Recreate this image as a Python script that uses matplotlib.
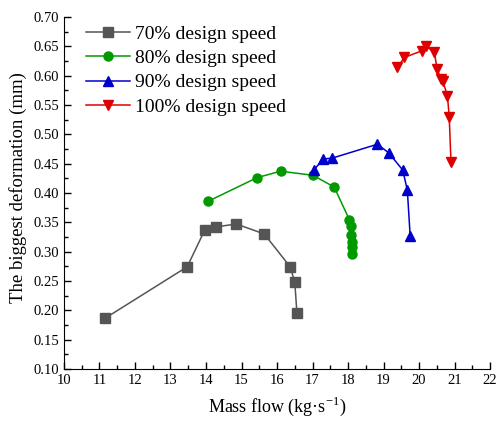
import matplotlib
matplotlib.use("Agg")
import matplotlib.pyplot as plt
from matplotlib.ticker import MultipleLocator, FormatStrFormatter

plt.rcParams['font.family'] = ['Liberation Serif', 'DejaVu Serif']
plt.rcParams['mathtext.fontset'] = 'custom'
plt.rcParams['mathtext.rm'] = 'Liberation Serif'

# Mass flow (kg/s) and biggest deformation (mm) per rotational speed
flow_70 = [11.15, 13.47, 13.96, 14.29, 14.85, 15.64, 16.37, 16.50, 16.56]
defo_70 = [0.186, 0.274, 0.336, 0.342, 0.347, 0.330, 0.274, 0.248, 0.196]

flow_80 = [14.07, 15.44, 16.10, 17.01, 17.61, 18.04, 18.07, 18.08, 18.10, 18.10, 18.12]
defo_80 = [0.386, 0.426, 0.437, 0.430, 0.410, 0.354, 0.343, 0.328, 0.316, 0.308, 0.296]

flow_90 = [17.04, 17.30, 17.54, 18.83, 19.15, 19.54, 19.67, 19.75]
defo_90 = [0.439, 0.458, 0.459, 0.483, 0.468, 0.439, 0.405, 0.327]

flow_100 = [19.39, 19.59, 20.07, 20.20, 20.43, 20.51, 20.61, 20.67, 20.80, 20.85, 20.90]
defo_100 = [0.614, 0.631, 0.642, 0.650, 0.640, 0.611, 0.595, 0.591, 0.565, 0.530, 0.452]

labels = ['70% design speed', '80% design speed', '90% design speed', '100% design speed']

fig = plt.figure(figsize=(4.96, 4.23), dpi=100)
ax = fig.add_axes([0.129, 0.128, 0.859, 0.832])

series = [
    (flow_70, defo_70, '#555555', 's'),
    (flow_80, defo_80, '#009a00', 'o'),
    (flow_90, defo_90, '#0000cc', '^'),
    (flow_100, defo_100, '#dd0000', 'v'),
]
for (x, y, c, m), lab in zip(series, labels):
    ax.plot(x, y, color=c, marker=m, markersize=6.5, linewidth=1.1, label=lab)

ax.set_xlim(10, 22)
ax.set_ylim(0.10, 0.70)
ax.xaxis.set_major_locator(MultipleLocator(1))
ax.xaxis.set_minor_locator(MultipleLocator(0.5))
ax.yaxis.set_major_locator(MultipleLocator(0.05))
ax.yaxis.set_minor_locator(MultipleLocator(0.025))
ax.yaxis.set_major_formatter(FormatStrFormatter('%.2f'))

ax.spines['top'].set_visible(False)
ax.spines['right'].set_visible(False)
ax.tick_params(which='both', direction='in', labelsize=10.5, width=1)
ax.tick_params(which='major', length=5)
ax.tick_params(which='minor', length=3)

ax.set_xlabel('Mass flow (kg·s$^{-1}$)', fontsize=13, labelpad=6)
ax.set_ylabel('The biggest deformation (mm)', fontsize=13.5)
ax.yaxis.set_label_coords(-0.087, 0.515)

leg = ax.legend(loc='upper left', frameon=False, fontsize=14, handlelength=2.3,
                bbox_to_anchor=(0.01, 1.027), labelspacing=0.35, handletextpad=0.25)

fig.savefig('out.png', dpi=100)
